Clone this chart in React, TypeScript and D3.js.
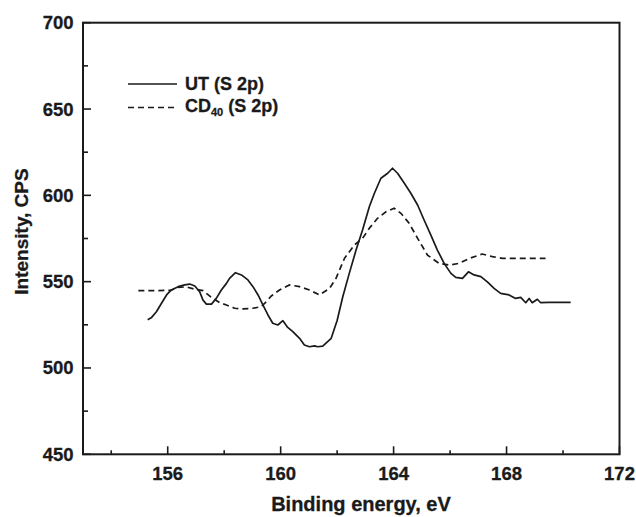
import React from "react";
import * as d3 from "d3";

// UT (S 2p) solid line: [binding energy eV, intensity CPS]
const utEnergy = [155.29,155.43,155.6,155.78,155.96,156.13,156.37,156.6,156.78,156.96,157.13,157.25,157.37,157.55,157.72,157.9,158.08,158.19,158.4,158.61,158.84,159.02,159.2,159.37,159.55,159.72,159.9,160.08,160.25,160.43,160.67,160.84,161.02,161.2,161.31,161.49,161.79,162.0,162.2,162.43,162.67,162.9,163.14,163.32,163.55,163.79,163.96,164.14,164.38,164.61,164.85,165.08,165.32,165.55,165.79,166.03,166.2,166.44,166.65,166.85,167.09,167.32,167.56,167.79,168.09,168.32,168.5,168.68,168.8,168.91,169.09,169.21,169.5,170.27];
const utIntensity = [528,529.3,532.6,537.5,542.3,545.2,547.1,548.1,548.6,547.5,544.2,539.3,537,537,540.3,545.2,549,551.9,555.2,553.9,551,547.1,542.3,536.5,530.7,525.9,524.9,527.4,523.5,521,517.2,513.3,512.3,512.8,512.3,512.7,517.2,527.5,541.3,554.8,568.3,579.9,593.4,601.2,609.9,612.8,615.7,612.8,607,601.2,594.4,585.7,577,568.3,560.6,554.8,552.5,551.9,555.7,553.9,552.9,549.9,546.1,543.2,542.3,540.3,540.9,537.8,540.3,537.8,539.8,537.8,538,538];

// CD40 (S 2p) dashed line
const cdEnergy = [154.96,155.5,156.1,156.37,156.66,156.96,157.25,157.55,157.84,158.08,158.37,158.66,159.02,159.31,159.49,159.67,159.96,160.31,160.67,161.02,161.37,161.73,161.96,162.26,162.61,162.9,163.14,163.43,163.73,164.02,164.26,164.55,164.85,165.2,165.61,165.97,166.32,166.68,167.14,167.5,167.85,169.38];
const cdIntensity = [544.8,544.8,545,546.7,547,545.6,544.8,540.9,537.8,536.5,534.6,534.2,534.6,535.5,538.4,541.7,545.2,548.1,547.1,545.2,542.3,546.1,551.9,563.5,571.2,575.1,580.9,586.7,590.5,592.5,589.6,583.8,575.1,565.4,560.6,559.6,560.6,563.5,566,564.5,563.5,563.5];

const xMajorTicks = [156, 160, 164, 168, 172];
const xMinorTicks = [154, 158, 162, 166, 170];
const yMajorTicks = [450, 500, 550, 600, 650, 700];
const yMinorTicks = [475, 525, 575, 625, 675];

const W = 636, H = 517;
const L = 83, R = 619.5, T = 22.7, B = 454.3;
const FONT = "'Liberation Sans', Arial, sans-serif";
const INK = "#1a1a1a";

export default function App() {
  const x = d3.scaleLinear().domain([153, 172]).range([L, R]);
  const y = d3.scaleLinear().domain([450, 700]).range([B, T]);
  const line = d3.line<[number, number]>().x(d => x(d[0])).y(d => y(d[1]));
  const ut = utEnergy.map((e, i) => [e, utIntensity[i]] as [number, number]);
  const cd = cdEnergy.map((e, i) => [e, cdIntensity[i]] as [number, number]);
  const textStyle = { stroke: INK, strokeWidth: 0.3 };

  return (
    <svg width={W} height={H} style={{ position: "absolute", left: 0, top: 0, background: "#fff" }}>
      <rect x={0} y={0} width={W} height={H} fill="#fff" />
      {/* frame */}
      <rect x={L} y={T} width={R - L} height={B - T} fill="none" stroke={INK} strokeWidth={2} />
      {/* ticks */}
      {xMajorTicks.map(t => (
        <g key={"xm" + t}>
          <line x1={x(t)} x2={x(t)} y1={B} y2={B - 8} stroke={INK} strokeWidth={1.6} />
          <text x={x(t)} y={480} textAnchor="middle" fontFamily={FONT} fontWeight="bold" fontSize={18.5} fill={INK} style={textStyle}>{t}</text>
        </g>
      ))}
      {xMinorTicks.map(t => (
        <line key={"xn" + t} x1={x(t)} x2={x(t)} y1={B} y2={B - 4} stroke={INK} strokeWidth={1.6} />
      ))}
      {yMajorTicks.map(t => (
        <g key={"ym" + t}>
          <line x1={L} x2={L + 8} y1={y(t)} y2={y(t)} stroke={INK} strokeWidth={1.6} />
          <text x={73.5} y={y(t) + 6.5} textAnchor="end" fontFamily={FONT} fontWeight="bold" fontSize={18.5} fill={INK} style={textStyle}>{t}</text>
        </g>
      ))}
      {yMinorTicks.map(t => (
        <line key={"yn" + t} x1={L} x2={L + 5} y1={y(t)} y2={y(t)} stroke={INK} strokeWidth={1.6} />
      ))}
      {/* axis labels */}
      <text x={361} y={510.5} textAnchor="middle" fontFamily={FONT} fontWeight="bold" fontSize={20} fill={INK} style={textStyle}>Binding energy, eV</text>
      <text transform="translate(27.5,231.5) rotate(-90)" textAnchor="middle" fontFamily={FONT} fontWeight="bold" fontSize={19} fill={INK} style={textStyle}>Intensity, CPS</text>
      {/* series */}
      <path d={line(cd) || ""} fill="none" stroke={INK} strokeWidth={1.7} strokeDasharray="6,4" />
      <path d={line(ut) || ""} fill="none" stroke={INK} strokeWidth={1.7} strokeLinejoin="round" />
      {/* legend */}
      <line x1={128} x2={177} y1={84} y2={84} stroke={INK} strokeWidth={1.7} />
      <text x={185} y={89.5} fontFamily={FONT} fontWeight="bold" fontSize={18} fill={INK} style={textStyle}>UT (S 2p)</text>
      <line x1={128} x2={177} y1={107.5} y2={107.5} stroke={INK} strokeWidth={1.7} strokeDasharray="6,4" />
      <text x={185} y={112} fontFamily={FONT} fontWeight="bold" fontSize={18} fill={INK} style={textStyle}>
        CD<tspan fontSize={11} dy={4}>40</tspan><tspan dy={-4}> (S 2p)</tspan>
      </text>
    </svg>
  );
}
